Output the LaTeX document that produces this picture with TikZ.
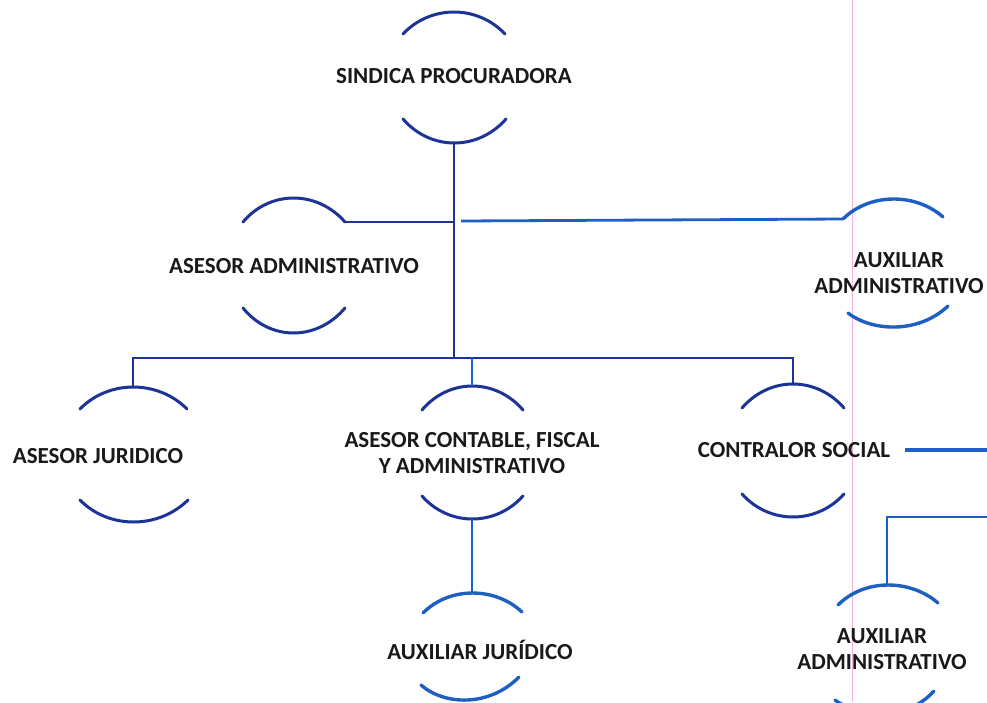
\documentclass[tikz,border=0pt]{standalone}
\usepackage{fontspec}
\setmainfont{Carlito}
\definecolor{dblue}{RGB}{28,52,150}
\definecolor{bblue}{RGB}{30,95,195}
\definecolor{txt}{RGB}{25,25,25}
\definecolor{pinkl}{RGB}{245,175,225}
% arc through left end (#2,#3), peak (#4,#5), right end (#6,#7)
\newcommand\arcthru[7]{\draw[#1] (#2,#3) .. controls ({#2+0.54*(#4-#2)},{#3+1.333*(#5-#3)}) and ({#6-0.54*(#6-#4)},{#7+1.333*(#5-#7)}) .. (#6,#7);}
\begin{document}
\begin{tikzpicture}[x=1pt,y=-1pt,
  lbl/.style={font=\fontsize{23}{26}\selectfont\bfseries, text=txt, inner sep=0pt, align=center},
  arcd/.style={draw=dblue, line width=3pt, line cap=round},
  arcb/.style={draw=bblue, line width=3.4pt, line cap=round},
  lined/.style={draw=dblue, line width=2.5pt},
  lineb/.style={draw=bblue, line width=2.8pt}]
\useasboundingbox (0,0) rectangle (987,702);
\clip (0,0) rectangle (987,702);
\fill[white] (0,0) rectangle (987,702);
\draw[pinkl, line width=1pt] (852,0) -- (852,702);

% SINDICA PROCURADORA
\node[lbl] (sp) at (454,76) {SINDICA PROCURADORA};
\arcthru{arcd}{403}{34}{454}{12}{505}{34}
\arcthru{arcd}{403}{119}{454}{143}{506}{119}
\coordinate (sp-b) at (454,143);

% ASESOR ADMINISTRATIVO
\node[lbl] (aa) at (294,266) {ASESOR ADMINISTRATIVO};
\arcthru{arcd}{243}{222}{293}{198}{345}{222}
\arcthru{arcd}{243}{308}{293}{333}{345}{308}
\coordinate (aa-r) at (345,222);

% AUXILIAR ADMINISTRATIVO (top right)
\node[lbl] (xa) at (899,273) {AUXILIAR\\ADMINISTRATIVO};
\arcthru{arcb}{843}{219}{893}{199}{943}{217}
\arcthru{arcb}{848}{313}{893}{327}{948}{306}
\coordinate (xa-l) at (843,219);

% trunk
\coordinate (j1) at (454,222);
\coordinate (j1r) at (461,221);
\coordinate (j2) at (454,358);
\draw[lined] (sp-b) -- (j2);
\draw[lined] (aa-r) -- (j1);
\draw[lineb] (j1r) -- (xa-l);

% ASESOR JURIDICO
\node[lbl] (aj) at (98,456) {ASESOR JURIDICO};
\arcthru{arcd}{80}{409}{133}{387}{187}{409}
\arcthru{arcd}{80}{500}{133}{522}{188}{500}
\coordinate (aj-t) at (133,387);

% ASESOR CONTABLE
\node[lbl] (ac) at (472,453) {ASESOR CONTABLE, FISCAL\\Y ADMINISTRATIVO};
\arcthru{arcd}{422}{410}{472}{386}{523}{410}
\arcthru{arcd}{422}{496}{472}{519}{523}{496}
\coordinate (ac-t) at (472,386);
\coordinate (ac-b) at (472,519);

% CONTRALOR SOCIAL
\node[lbl] (cs) at (794,450) {CONTRALOR SOCIAL};
\arcthru{arcd}{742}{408}{793}{384}{844}{408}
\arcthru{arcd}{742}{494}{793}{517}{844}{494}
\coordinate (cs-t) at (793,384);
\coordinate (cs-r) at (905,450);
\coordinate (edge1) at (992,450);

% bar
\draw[lined] (aj-t) -- (aj-t |- j2) -- (cs-t |- j2) -- (cs-t);
\draw[lineb] (ac-t) -- (ac-t |- j2);
\draw[bblue, line width=4pt] (cs-r) -- (edge1);

% AUXILIAR JURIDICO
\node[lbl] (xj) at (480,650) {AUXILIAR JURÍDICO};
\arcthru{arcb}{423}{613}{472}{593}{522}{612}
\arcthru{arcb}{421}{685}{463}{700}{519}{677}
\coordinate (xj-t) at (472,593);
\draw[lineb] (ac-b) -- (xj-t);

% AUXILIAR ADMINISTRATIVO (bottom right)
\node[lbl] (xb) at (882,649) {AUXILIAR\\ADMINISTRATIVO};
\arcthru{arcb}{838}{605}{887}{585}{938}{603}
\arcthru{arcb}{835}{700}{882}{714}{934}{691}
\coordinate (xb-t) at (887,585);
\coordinate (edge2) at (992,517);
\draw[lineb] (edge2) -- (xb-t |- edge2) -- (xb-t);
\end{tikzpicture}
\end{document}
